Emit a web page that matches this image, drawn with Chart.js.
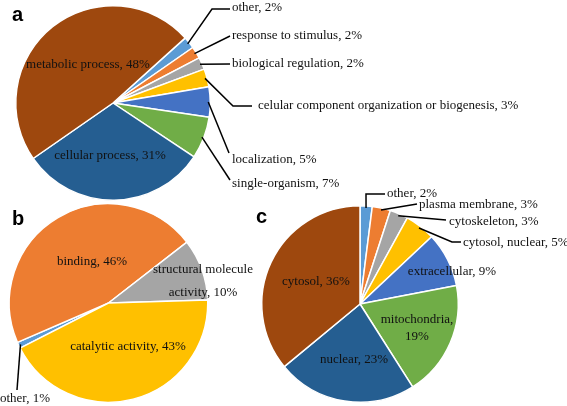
<!DOCTYPE html>
<html lang="en">
<head>
    <meta charset="UTF-8">
    <title>Pies</title>
    <script src="https://cdn.jsdelivr.net/npm/chart.js"></script>
    <style>
        body { margin: 0; background: #fff; }
        .quadro { position: absolute; left: 0; top: 0; }
    </style>
</head>
<body>
    <canvas class="quadro" id="pieA" width="567" height="406"></canvas>
    <canvas class="quadro" id="pieB" width="567" height="406"></canvas>
    <canvas class="quadro" id="pieC" width="567" height="406"></canvas>

<script>
    // (a) biological process
    const labelsA = ['other', 'response to stimulus', 'biological regulation',
        'celular component organization or biogenesis', 'localization',
        'single-organism', 'cellular process', 'metabolic process'];
    const valuesA = [2, 2, 2, 3, 5, 7, 31, 48];

    // (b) molecular function
    const labelsB = ['other', 'binding', 'structural molecule activity', 'catalytic activity'];
    const valuesB = [1, 46, 10, 43];

    // (c) cellular component
    const labelsC = ['other', 'plasma membrane', 'cytoskeleton', 'cytosol, nuclear',
        'extracellular', 'mitochondria', 'nuclear', 'cytosol'];
    const valuesC = [2, 3, 3, 5, 9, 19, 23, 36];

    // paleta do Excel
    const cores = ['#5B9BD5', '#ED7D31', '#A5A5A5', '#FFC000', '#4472C4', '#70AD47', '#255E91', '#9E480E'];
    const coresB = ['#5B9BD5', '#ED7D31', '#A5A5A5', '#FFC000'];

    // desenha os rotulos e as linhas de chamada
    const pieLabels = {
        id: 'pieLabels',
        afterDraw(chart, args, opts) {
            const ctx = chart.ctx;
            const meta = chart.getDatasetMeta(0);
            const nomes = chart.data.labels;
            const valores = chart.data.datasets[0].data;
            ctx.save();
            ctx.strokeStyle = '#000';
            ctx.lineWidth = 1.5;
            ctx.fillStyle = '#111';
            ctx.font = '13px "Liberation Serif"';
            ctx.textBaseline = 'middle';
            opts.pos.forEach((p, i) => {
                const texto = nomes[i] + ', ' + valores[i] + '%';
                let linhas = [texto];
                if (p.breakAt) {
                    const w = texto.split(' ');
                    linhas = [w.slice(0, p.breakAt).join(' '), w.slice(p.breakAt).join(' ')];
                }
                if (p.line) {
                    const arc = meta.data[i];
                    const mid = (arc.startAngle + arc.endAngle) / 2;
                    ctx.beginPath();
                    ctx.moveTo(arc.x + Math.cos(mid) * (arc.outerRadius - 2), arc.y + Math.sin(mid) * (arc.outerRadius - 2));
                    p.line.forEach(pt => ctx.lineTo(pt[0], pt[1]));
                    ctx.stroke();
                }
                ctx.textAlign = p.align || 'center';
                linhas.forEach((l, k) => ctx.fillText(l, p.x, p.y + k * (p.lh || 0)));
            });
            // letra do painel
            ctx.font = 'bold 20px "Liberation Sans"';
            ctx.fillStyle = '#000';
            ctx.textAlign = 'left';
            ctx.textBaseline = 'alphabetic';
            ctx.fillText(opts.letter, opts.lx, opts.ly);
            ctx.restore();
        }
    };

    function montaPie(id, nomes, valores, corList, rotacao, padding, rotulos) {
        return new Chart(document.getElementById(id), {
            type: 'pie',
            data: {
                labels: nomes,
                datasets: [{
                    data: valores,
                    backgroundColor: corList,
                    borderColor: '#fff',
                    borderWidth: 1.5,
                    hoverOffset: 0
                }]
            },
            options: {
                responsive: false,
                animation: false,
                rotation: rotacao,
                layout: { padding: padding },
                plugins: {
                    legend: { display: false },
                    tooltip: { enabled: false },
                    pieLabels: rotulos
                }
            },
            plugins: [pieLabels]
        });
    }

    const pieA = montaPie('pieA', labelsA, valuesA, cores, 48,
        { left: 15, top: 5, right: 356, bottom: 205 },
        {
            letter: 'a', lx: 12, ly: 21,
            pos: [
                { x: 232, y: 8, align: 'left', line: [[212, 9], [230, 9]] },
                { x: 232, y: 36, align: 'left', line: [[230, 36]] },
                { x: 232, y: 64, align: 'left', line: [[230, 64]] },
                { x: 258, y: 106, align: 'left', line: [[233, 106], [252, 106]] },
                { x: 232, y: 160, align: 'left', line: [[229, 153]] },
                { x: 232, y: 184, align: 'left', line: [[230, 180]] },
                { x: 110, y: 156 },
                { x: 88, y: 65 }
            ]
        });

    const pieB = montaPie('pieB', labelsB, valuesB, coresB, 243,
        { left: 8, top: 203, right: 358, bottom: 3 },
        {
            letter: 'b', lx: 12, ly: 225,
            pos: [
                { x: 25, y: 399, line: [[17, 390]] },
                { x: 92, y: 262 },
                { x: 203, y: 270, lh: 23, breakAt: 2 },
                { x: 128, y: 347 }
            ]
        });

    const pieC = montaPie('pieC', labelsC, valuesC, cores, 0,
        { left: 261, top: 205, right: 108, bottom: 3 },
        {
            letter: 'c', lx: 256, ly: 223,
            pos: [
                { x: 387, y: 194, align: 'left', line: [[366, 194], [385, 194]] },
                { x: 419, y: 205, align: 'left', line: [[417, 204]] },
                { x: 449, y: 222, align: 'left', line: [[446, 220]] },
                { x: 463, y: 243, align: 'left', line: [[452, 242], [461, 242]] },
                { x: 452, y: 272 },
                { x: 417, y: 320, lh: 17, breakAt: 1 },
                { x: 354, y: 360 },
                { x: 316, y: 282 }
            ]
        });
</script>
</body>
</html>
